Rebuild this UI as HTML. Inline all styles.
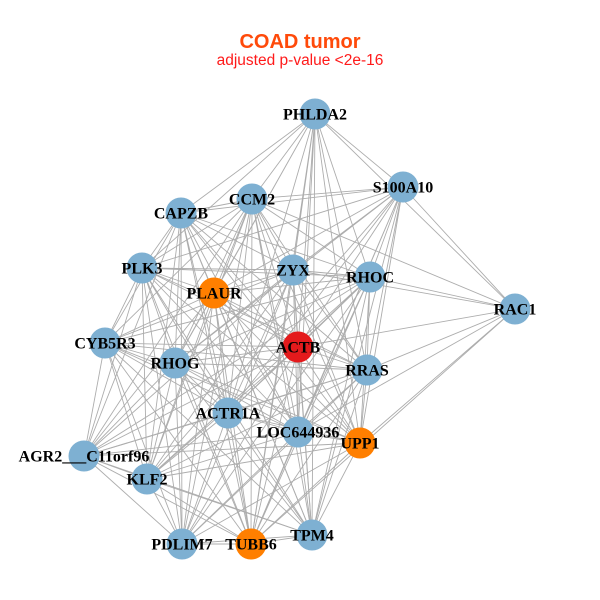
<!DOCTYPE html>
<html><head><meta charset="utf-8"><style>
html,body{margin:0;padding:0;background:#fff;}
svg{display:block;}
.e{stroke:#adadad;stroke-width:0.9;fill:none;}
.l{font-family:"Liberation Serif",serif;font-weight:bold;font-size:16px;fill:#000;text-anchor:middle;}
</style></head><body>
<svg width="600" height="600" viewBox="0 0 600 600" xmlns="http://www.w3.org/2000/svg">
<rect width="600" height="600" fill="#fff"/>
<text x="300" y="48" text-anchor="middle" font-family="Liberation Sans, sans-serif" font-weight="bold" font-size="20" fill="#FF4A0A">COAD tumor</text>
<text x="300" y="65" text-anchor="middle" font-family="Liberation Sans, sans-serif" font-size="15.5" fill="#FF1A1A">adjusted p-value &lt;2e-16</text>
<g class="e">
<path d="M315 114L403 187M315 114L252 199M315 114L181 213M315 114L142 268M315 114L293 270M315 114L370 277M315 114L214 293M315 114L515 309M315 114L298 347M315 114L175 363M315 114L367 370M315 114L228 413M315 114L298 432M315 114L360 443M315 114L251 544M315 114L312 535"/>
<path d="M403 187L252 199M403 187L181 213M403 187L142 268M403 187L293 270M403 187L370 277M403 187L214 293M403 187L515 309M403 187L298 347M403 187L175 363M403 187L367 370M403 187L228 413M403 187L298 432M403 187L360 443M403 187L147 479M403 187L251 544M403 187L312 535"/>
<path d="M252 199L181 213M252 199L142 268M252 199L293 270M252 199L370 277M252 199L214 293M252 199L515 309M252 199L105 343M252 199L298 347M252 199L175 363M252 199L367 370M252 199L228 413M252 199L298 432M252 199L360 443M252 199L84 456M252 199L147 479M252 199L182 544M252 199L251 544M252 199L312 535"/>
<path d="M181 213L142 268M181 213L293 270M181 213L370 277M181 213L214 293M181 213L105 343M181 213L298 347M181 213L175 363M181 213L367 370M181 213L228 413M181 213L298 432M181 213L360 443M181 213L84 456M181 213L147 479M181 213L182 544M181 213L251 544M181 213L312 535"/>
<path d="M142 268L293 270M142 268L370 277M142 268L214 293M142 268L105 343M142 268L298 347M142 268L175 363M142 268L367 370M142 268L228 413M142 268L298 432M142 268L360 443M142 268L84 456M142 268L147 479M142 268L182 544M142 268L251 544M142 268L312 535"/>
<path d="M293 270L370 277M293 270L214 293M293 270L515 309M293 270L105 343M293 270L298 347M293 270L175 363M293 270L367 370M293 270L228 413M293 270L298 432M293 270L360 443M293 270L84 456M293 270L147 479M293 270L182 544M293 270L251 544M293 270L312 535"/>
<path d="M370 277L214 293M370 277L515 309M370 277L105 343M370 277L298 347M370 277L175 363M370 277L367 370M370 277L228 413M370 277L298 432M370 277L360 443M370 277L84 456M370 277L147 479M370 277L182 544M370 277L251 544M370 277L312 535"/>
<path d="M214 293L105 343M214 293L298 347M214 293L175 363M214 293L367 370M214 293L228 413M214 293L298 432M214 293L360 443M214 293L84 456M214 293L147 479M214 293L182 544M214 293L251 544M214 293L312 535"/>
<path d="M515 309L298 347M515 309L367 370M515 309L298 432M515 309L360 443M515 309L251 544"/>
<path d="M105 343L298 347M105 343L175 363M105 343L367 370M105 343L228 413M105 343L298 432M105 343L360 443M105 343L84 456M105 343L147 479M105 343L182 544M105 343L251 544M105 343L312 535"/>
<path d="M298 347L175 363M298 347L367 370M298 347L228 413M298 347L298 432M298 347L360 443M298 347L84 456M298 347L147 479M298 347L182 544M298 347L251 544M298 347L312 535"/>
<path d="M175 363L367 370M175 363L228 413M175 363L298 432M175 363L360 443M175 363L84 456M175 363L147 479M175 363L182 544M175 363L251 544M175 363L312 535"/>
<path d="M367 370L228 413M367 370L298 432M367 370L360 443M367 370L84 456M367 370L147 479M367 370L182 544M367 370L251 544M367 370L312 535"/>
<path d="M228 413L298 432M228 413L360 443M228 413L84 456M228 413L147 479M228 413L182 544M228 413L251 544M228 413L312 535"/>
<path d="M298 432L360 443M298 432L84 456M298 432L147 479M298 432L182 544M298 432L251 544M298 432L312 535"/>
<path d="M360 443L84 456M360 443L147 479M360 443L182 544M360 443L251 544M360 443L312 535"/>
<path d="M84 456L147 479M84 456L182 544M84 456L251 544M84 456L312 535"/>
<path d="M147 479L182 544M147 479L251 544M147 479L312 535"/>
<path d="M182 544L251 544M182 544L312 535M251 544L312 535"/>
</g>
<g fill="#7EB0D2">
<circle cx="315" cy="114" r="15.5"/>
<circle cx="403" cy="187" r="15.5"/>
<circle cx="252" cy="199" r="15.5"/>
<circle cx="181" cy="213" r="15.5"/>
<circle cx="142" cy="268" r="15.5"/>
<circle cx="293" cy="270" r="15.5"/>
<circle cx="370" cy="277" r="15.5"/>
<circle cx="515" cy="309" r="15.5"/>
<circle cx="105" cy="343" r="15.5"/>
<circle cx="175" cy="363" r="15.5"/>
<circle cx="367" cy="370" r="15.5"/>
<circle cx="228" cy="413" r="15.5"/>
<circle cx="298" cy="432" r="15.5"/>
<circle cx="84" cy="456" r="15.5"/>
<circle cx="147" cy="479" r="15.5"/>
<circle cx="182" cy="544" r="15.5"/>
<circle cx="312" cy="535" r="15.5"/>
</g>
<g fill="#FF7F00">
<circle cx="214" cy="293" r="15.5"/>
<circle cx="360" cy="443" r="15.5"/>
<circle cx="251" cy="544" r="15.5"/>
</g>
<circle cx="298" cy="347" r="15.5" fill="#E41A1C"/>
<g class="l">
<text x="315" y="119.5">PHLDA2</text>
<text x="403" y="192.5">S100A10</text>
<text x="252" y="204.5">CCM2</text>
<text x="181" y="218.5">CAPZB</text>
<text x="142" y="273.5">PLK3</text>
<text x="293" y="275.5">ZYX</text>
<text x="370" y="282.5">RHOC</text>
<text x="214" y="298.5">PLAUR</text>
<text x="515" y="314.5">RAC1</text>
<text x="105" y="348.5">CYB5R3</text>
<text x="298" y="352.5">ACTB</text>
<text x="175" y="368.5">RHOG</text>
<text x="367" y="375.5">RRAS</text>
<text x="228" y="418.5">ACTR1A</text>
<text x="298" y="437.5">LOC644936</text>
<text x="360" y="448.5">UPP1</text>
<text x="84" y="461.5">AGR2___C11orf96</text>
<text x="147" y="484.5">KLF2</text>
<text x="182" y="549.5">PDLIM7</text>
<text x="251" y="549.5">TUBB6</text>
<text x="312" y="540.5">TPM4</text>
</g>
</svg>
</body></html>
